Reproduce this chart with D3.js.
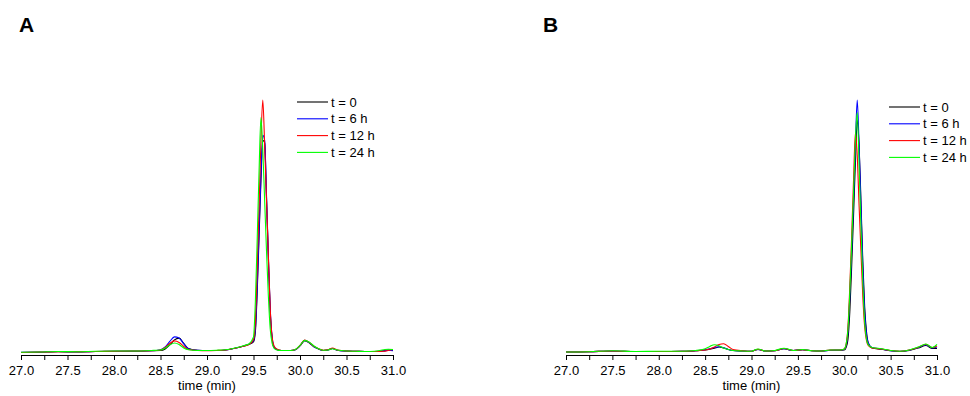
<!DOCTYPE html>
<html>
<head>
<meta charset="utf-8">
<script src="https://cdn.jsdelivr.net/npm/d3@7"></script>
<style>
  body { margin: 0; background: #fff; }
  svg { display: block; font-family: "Liberation Sans", Arial, sans-serif; }
  .axis text { font-size: 13px; fill: #000; }
  .axis path, .axis line { stroke: #000; stroke-width: 1; }
</style>
</head>
<body>
<div id="chart"></div>
<script>
// series names / colours
var seriesLabels = ["t = 0", "t = 6 h", "t = 12 h", "t = 24 h"];
var seriesColors = ["#000000", "#0000ff", "#ff0000", "#00ff00"];

// panel A : retention time (min) and detector signal (arbitrary, red peak = 100)
var timeA = [27.0, 27.2, 27.4, 27.6, 27.8, 28.0, 28.2, 28.4, 28.5, 28.55, 28.6, 28.65, 28.7, 28.75, 28.8,
  28.9, 29.0, 29.1, 29.2, 29.3, 29.4, 29.45, 29.5, 29.52, 29.54, 29.56, 29.58, 29.6, 29.62, 29.64, 29.66,
  29.68, 29.7, 29.72, 29.75, 29.8, 29.9, 29.95, 30.0, 30.05, 30.1, 30.15, 30.2, 30.25, 30.3, 30.35, 30.4,
  30.5, 30.6, 30.7, 30.8, 30.9, 30.95, 31.0];
var a0h = [-0.2, -0.1, 0.1, 0.0, 0.2, 0.3, 0.3, 0.5, 0.6, 1.2, 2.8, 4.8, 5.5, 3.4, 1.4,
  0.7, 0.6, 0.6, 0.8, 1.5, 2.4, 3.0, 4.0, 8, 24, 46, 68, 84, 83, 61, 37,
  16, 5.5, 2.0, 1.0, 0.6, 0.6, 0.9, 2.4, 4.5, 3.6, 2.1, 1.2, 0.6, 0.8, 1.4, 0.7,
  0.4, 0.3, 0.2, 0.2, 0.5, 0.8, 0.6];
var a6h = [-0.1, 0.0, 0.2, 0.1, 0.2, 0.3, 0.4, 0.5, 0.9, 2.0, 4.2, 6.0, 5.6, 3.2, 1.3,
  0.7, 0.6, 0.6, 0.8, 1.5, 2.5, 3.1, 4.5, 9, 26, 48, 70, 86, 84, 62, 38,
  17, 6, 2.0, 1.0, 0.6, 0.6, 0.9, 2.5, 4.6, 3.7, 2.1, 1.2, 0.6, 0.8, 1.4, 0.7,
  0.4, 0.3, 0.2, 0.2, 0.4, 0.7, 0.5];
var a12h = [-0.2, 0.0, 0.1, 0.1, 0.2, 0.3, 0.4, 0.5, 0.8, 1.8, 3.4, 4.4, 3.8, 2.2, 1.0,
  0.6, 0.5, 0.6, 0.8, 1.5, 2.4, 3.0, 5, 12, 34, 58, 84, 100, 82, 60, 38,
  17, 6, 2.5, 1.2, 0.6, 0.6, 1.0, 2.6, 4.7, 3.8, 2.3, 1.3, 0.7, 0.9, 1.6, 0.8,
  0.4, 0.3, 0.2, 0.2, 0.3, 0.6, 1.0];
var a24h = [-0.1, 0.0, 0.2, 0.1, 0.3, 0.4, 0.4, 0.6, 0.8, 1.6, 2.8, 3.6, 3.0, 1.6, 0.9,
  0.6, 0.6, 0.7, 0.9, 1.6, 2.6, 3.2, 6, 20, 45, 72, 93, 80, 60, 40, 22,
  9, 3.5, 1.5, 0.8, 0.6, 0.6, 1.0, 2.6, 4.6, 3.9, 2.4, 1.3, 0.7, 0.8, 1.3, 0.8,
  0.4, 0.3, 0.2, 0.3, 0.9, 1.1, 1.0];

// panel B
var timeB = [27.0, 27.25, 27.5, 27.75, 28.0, 28.25, 28.4, 28.5, 28.55, 28.6, 28.65, 28.7, 28.75, 28.8,
  28.9, 29.0, 29.07, 29.15, 29.25, 29.35, 29.45, 29.55, 29.65, 29.75, 29.85, 29.95, 30.0, 30.02,
  30.04, 30.06, 30.08, 30.1, 30.12, 30.14, 30.16, 30.18, 30.2, 30.22, 30.24, 30.26, 30.3, 30.4,
  30.5, 30.6, 30.7, 30.8, 30.88, 30.95, 31.0];
var b0h = [0.0, 0.1, 0.4, 0.2, 0.2, 0.3, 0.5, 0.8, 1.1, 1.5, 2.0, 1.6, 1.0, 0.6,
  0.4, 0.3, 1.0, 0.4, 0.5, 1.3, 0.6, 0.9, 0.5, 0.4, 0.7, 0.7, 0.8, 1.8,
  5, 16, 34, 54, 75, 92, 82, 60, 36, 18, 8, 3.5, 1.6, 1.1,
  0.5, 0.2, 0.6, 1.6, 2.6, 1.4, 1.4];
var b6h = [0.0, 0.1, 0.4, 0.2, 0.2, 0.3, 0.5, 0.9, 1.3, 1.8, 2.1, 1.7, 1.0, 0.6,
  0.4, 0.3, 1.0, 0.4, 0.5, 1.3, 0.6, 0.9, 0.5, 0.4, 0.7, 0.8, 1.0, 2.5,
  8, 22, 40, 60, 82, 100, 82, 58, 34, 16, 7, 3.5, 1.8, 1.2,
  0.5, 0.3, 0.7, 1.8, 2.9, 1.6, 2.0];
var b12h = [0.0, 0.1, 0.4, 0.2, 0.2, 0.3, 0.5, 0.8, 1.2, 2.0, 3.0, 3.3, 2.2, 1.0,
  0.5, 0.3, 1.1, 0.4, 0.5, 1.4, 0.6, 0.9, 0.5, 0.4, 0.8, 0.8, 1.2, 3,
  10, 26, 46, 68, 87, 78, 58, 40, 22, 10, 4.5, 2.5, 1.6, 1.2,
  0.6, 0.3, 0.8, 1.9, 3.1, 1.8, 2.4];
var b24h = [0.0, 0.1, 0.5, 0.2, 0.3, 0.3, 0.6, 1.3, 2.2, 2.9, 2.5, 1.6, 1.0, 0.6,
  0.4, 0.3, 1.2, 0.4, 0.6, 1.5, 0.6, 1.0, 0.5, 0.4, 0.8, 0.8, 1.2, 3,
  9, 24, 43, 63, 84, 95, 74, 50, 28, 12, 5, 2.8, 1.8, 1.3,
  0.6, 0.3, 0.8, 2.0, 3.2, 1.8, 3.0];

var tickValues = [27.0, 27.25, 27.5, 27.75, 28.0, 28.25, 28.5, 28.75, 29.0, 29.25, 29.5, 29.75, 30.0, 30.25, 30.5, 30.75, 31.0];

var width = 970, height = 396;

var svg = d3.select("#chart").append("svg")
    .attr("width", width)
    .attr("height", height);

var panels = [
    { letter: "A", letterX: 19, x0: 21, x1: 393, times: timeA, series: [a0h, a6h, a12h, a24h], legendX: 297, legendY: 102 },
    { letter: "B", letterX: 543, x0: 566, x1: 937, times: timeB, series: [b0h, b6h, b12h, b24h], legendX: 889, legendY: 107 }
];

var y = d3.scaleLinear().domain([0, 100]).range([352, 100]);
var axisY = 355;

panels.forEach(function (p) {
    var x = d3.scaleLinear().domain([27, 31]).range([p.x0, p.x1]);
    var g = svg.append("g");

    g.append("text")
        .attr("x", p.letterX)
        .attr("y", 32)
        .style("font-size", "21px")
        .style("font-weight", "bold")
        .text(p.letter);

    var line = d3.line()
        .x(function (d) { return x(d[0]); })
        .y(function (d) { return y(d[1]); })
        .curve(d3.curveMonotoneX);

    p.series.forEach(function (vals, i) {
        var pts = p.times.map(function (t, j) { return [t, vals[j]]; });
        g.append("path")
            .datum(pts)
            .attr("fill", "none")
            .attr("stroke", seriesColors[i])
            .attr("stroke-width", 1.1)
            .attr("d", line);
    });

    var axis = d3.axisBottom(x)
        .tickValues(tickValues)
        .tickSize(5)
        .tickSizeOuter(0)
        .tickPadding(6)
        .tickFormat(function (d) { return (Math.abs(d * 2 - Math.round(d * 2)) < 1e-6) ? d3.format(".1f")(d) : ""; });

    g.append("g")
        .attr("class", "axis")
        .attr("transform", "translate(0," + axisY + ")")
        .call(axis)
        .call(function (s) { s.selectAll("text").attr("font-family", null).attr("font-size", null); });

    g.append("text")
        .attr("x", (p.x0 + p.x1) / 2)
        .attr("y", 390)
        .attr("text-anchor", "middle")
        .style("font-size", "13px")
        .text("time (min)");

    var legend = g.selectAll(".legend")
        .data(seriesLabels)
        .enter().append("g")
        .attr("class", "legend")
        .attr("transform", function (d, i) { return "translate(" + p.legendX + "," + (p.legendY + i * 16.8) + ")"; });

    legend.append("line")
        .attr("x1", 0).attr("x2", 31)
        .attr("y1", 0).attr("y2", 0)
        .attr("stroke", function (d, i) { return seriesColors[i]; })
        .attr("stroke-width", 1.1);

    legend.append("text")
        .attr("x", 34)
        .attr("dy", "0.36em")
        .style("font-size", "13px")
        .text(function (d) { return d; });
});
</script>
</body>
</html>
